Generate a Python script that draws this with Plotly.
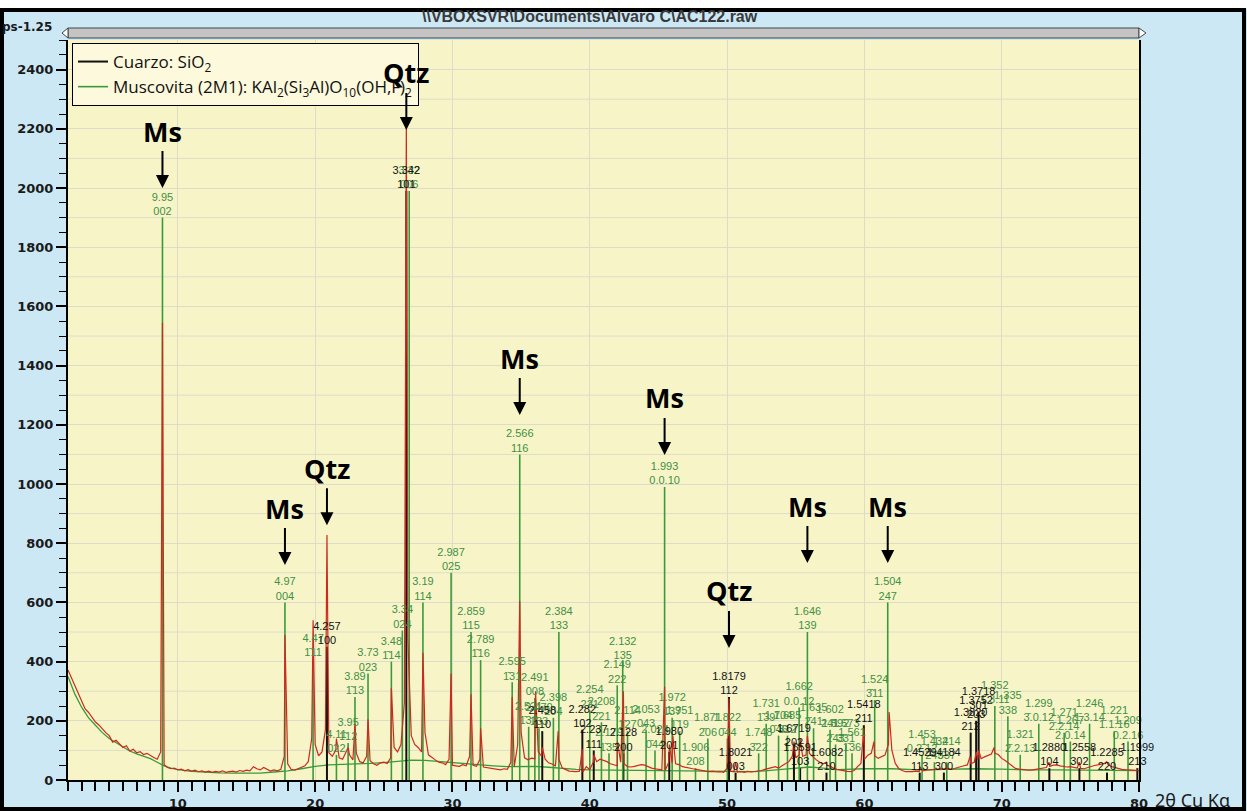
import plotly.graph_objects as go

# ---------------- DATA ----------------
# Measured diffractogram, counts sampled every 0.25 deg from 2 deg to 80 deg
obs_start = 2.0
obs_step = 0.25
obs_counts = [
    372, 345, 318, 290, 262, 240, 228, 210, 196, 186, 172, 160,   # 2.00
    150, 128, 134, 122, 110, 116, 98, 104, 92, 96, 86, 90,        # 5.00
    82, 76, 70, 95, 52, 42, 38, 40, 34, 37, 31, 35,               # 8.00
    30, 33, 28, 31, 27, 30, 26, 29, 27, 31, 26, 28,               # 11.00
    30, 27, 32, 29, 33, 31, 45, 38, 34, 42, 36, 30,               # 14.00
    34, 31, 36, 80, 55, 36, 33, 38, 42, 48, 62, 140,              # 17.00
    120, 82, 95, 170, 92, 80, 100, 75, 70, 95, 85, 68,            # 20.00
    90, 62, 58, 80, 65, 55, 50, 58, 60, 56, 75, 110,              # 23.00
    95, 120, 260, 480, 150, 120, 110, 95, 160, 85, 75, 68,        # 26.00
    60, 58, 52, 70, 50, 48, 46, 52, 48, 80, 50, 46,               # 29.00
    70, 44, 42, 40, 38, 36, 34, 38, 36, 60, 45, 120,              # 32.00
    160, 75, 68, 74, 72, 95, 80, 70, 58, 54, 48, 70,              # 35.00
    40, 34, 30, 29, 28, 30, 27, 45, 35, 60, 62, 70,               # 38.00
    66, 62, 55, 52, 48, 60, 55, 45, 44, 46, 48, 52,               # 41.00
    50, 45, 40, 38, 36, 34, 33, 60, 58, 55, 52, 45,               # 44.00
    42, 40, 38, 36, 33, 30, 29, 28, 29, 27, 28, 26,               # 47.00
    40, 30, 28, 27, 28, 26, 29, 27, 28, 30, 32, 36,               # 50.00
    38, 42, 45, 40, 48, 55, 62, 80, 75, 85, 80, 84,               # 53.00
    90, 78, 68, 60, 55, 50, 47, 40, 36, 33, 30, 29,               # 56.00
    28, 32, 45, 56, 70, 84, 90, 82, 73, 78, 84, 120,              # 59.00
    101, 56, 39, 32, 28, 27, 28, 30, 29, 31, 33, 34,              # 62.00
    33, 36, 38, 37, 39, 36, 38, 42, 45, 48, 51, 55,               # 65.00
    60, 68, 72, 78, 84, 88, 90, 86, 73, 66, 56, 48,               # 68.00
    39, 37, 35, 34, 33, 34, 36, 38, 39, 42, 46, 50,               # 71.00
    51, 48, 45, 44, 45, 42, 40, 39, 38, 42, 46, 49,               # 74.00
    51, 54, 56, 52, 45, 42, 38, 36, 35, 34, 33, 32,               # 77.00
    32,                                                           # 80.00
]
# Peak tops of the measured pattern
peak_2theta = [8.88, 17.80, 19.85, 20.86, 21.55, 22.40, 22.90, 23.85, 25.55, 26.64,
               27.85, 29.90, 31.35, 32.05, 34.35, 34.90, 36.05, 36.55, 37.70, 39.45,
               40.30, 42.02, 42.45, 45.45, 45.80, 46.05, 50.14, 50.62, 54.87, 55.32,
               55.85, 57.24, 59.96, 60.70, 61.80, 64.03, 67.70, 68.15, 68.33, 69.45,
               73.45, 75.65, 77.65]
peak_counts = [1545, 490, 540, 828, 140, 110, 190, 205, 310, 2220,
               430, 360, 290, 175, 280, 605, 300, 110, 165, 105,
               85, 130, 300, 315, 120, 150, 275, 60, 130, 140,
               150, 60, 175, 130, 230, 45, 80, 95, 100, 110,
               60, 60, 62]

# Background curve
bkg_2theta = [2, 2.5, 3, 3.5, 4, 4.5, 5, 5.5, 6, 6.5, 7, 7.5, 8, 8.5, 9, 9.5,
              10, 11, 12, 13, 14, 15, 16, 17, 18, 19, 20, 21, 22, 23, 24, 25, 26, 27,
              28, 29, 30, 31, 32, 33, 34, 35, 36, 37, 38, 39, 40,
              42, 44, 46, 48, 50, 52, 54, 56, 57, 58,
              60, 62, 64, 66, 68, 70, 72, 74, 76, 78, 80]
bkg_counts = [350, 290, 245, 210, 185, 160, 140, 125, 110, 98, 88, 80, 72, 60, 48, 40,
              35, 29, 26, 24, 23, 22, 23, 27, 31, 38, 46, 51, 52, 54, 56, 59, 63, 67,
              66, 62, 58, 55, 51, 48, 45, 45, 46, 43, 39, 36, 34,
              33, 32, 30, 28, 28, 28, 36, 44, 40, 35,
              38, 38, 34, 36, 38, 37, 34, 34, 34, 33, 32]

B = "\u0304"  # overline (bar) for negative Miller indices

# Quartz reference sticks
qtz_2theta = [20.86, 26.64, 36.54, 39.46, 40.29, 42.45, 45.79, 50.14, 50.62, 54.87, 55.32,
              57.24, 59.96, 64.03, 65.79, 67.74, 68.14, 68.32, 73.47, 75.66, 77.67, 79.88]
qtz_counts = [450, 1990, 165, 170, 100, 90, 95, 280, 25, 105, 40,
              25, 185, 25, 25, 160, 200, 230, 40, 40, 25, 40]
qtz_d = ["4.257", "3.342", "2.458", "2.282", "2.237", "2.128", "1.980", "1.8179", "1.8021",
         "1.6719", "1.6591", "1.6082", "1.5418", "1.4529", "1.4184", "1.3820", "1.3752",
         "1.3718", "1.2880", "1.2558", "1.2285", "1.1999"]
qtz_hkl = ["100", "101", "110", "102", "111", "200", "201", "112", "003", "202", "103",
           "210", "211", "113", "300", "212", "203", "301", "104", "302", "220", "213"]

# Muscovite reference sticks
ms_2theta = [8.88, 17.80, 19.85, 21.55, 22.40, 22.90, 23.85, 25.55, 26.35, 26.85,
             27.85, 29.90, 31.35, 32.05, 34.35, 34.90, 35.55, 36.00, 36.30, 37.35,
             37.75, 40.00, 40.85, 41.40, 42.00, 42.40, 42.75, 44.10, 44.75, 45.45,
             46.00, 46.55, 47.70, 48.60, 50.02, 52.30, 52.85, 53.75, 54.40, 55.25,
             55.85, 56.30, 57.50, 57.90, 58.65, 59.10, 60.75, 61.70, 64.20, 65.10,
             66.00, 69.50, 70.45, 71.35, 72.70, 74.55, 75.00, 76.40, 78.20, 79.20]
ms_counts = [1900, 600, 410, 85, 125, 280, 360, 400, 505, 1990,
             600, 700, 500, 405, 330, 1100, 180, 277, 175, 210,
             500, 235, 195, 90, 320, 400, 165, 170, 100, 990,
             210, 165, 40, 140, 140, 90, 190, 150, 150, 245,
             500, 175, 170, 120, 120, 90, 270, 600, 85, 60,
             60, 250, 215, 85, 190, 160, 130, 190, 165, 130]
ms_d = ["9.95", "4.97", "4.47", "4.11", "3.95", "3.89", "3.73", "3.48", "3.34", "3.32",
        "3.19", "2.987", "2.859", "2.789", "2.595", "2.566", "2.521", "2.491", "2.470", "2.398",
        "2.384", "2.254", "2.208", "2.179", "2.149", "2.132", "2.114", "2.053", "2.024", "1.993",
        "1.972", "1.951", "1.906", "1.871", "1.822", "1.748", "1.731", "1.704", "1.685", "1.662",
        "1.646", "1.635", "1.602", "1.592", "1.573", "1.561", "1.524", "1.504", "1.453", "1.432",
        "1.414", "1.352", "1.335", "1.321", "1.299", "1.271", "1.267", "1.246", "1.221", "1.209"]
ms_hkl = ["002", "004", "1" + B + "11", "022", "1" + B + "12", "1" + B + "13", "023", "1" + B + "14", "024", "006",
          "114", "025", "115", "1" + B + "16", "1" + B + "31", "116", "1" + B + "32", "008", "1" + B + "33", "204",
          "133", "221", "2" + B + "21", "1" + B + "35", "222", "135", "1" + B + "27", "043", "0" + B + "44", "0.0.10",
          "1" + B + "37", "1" + B + "19", "208", "2" + B + "06", "0" + B + "44", "3" + B + "22", "1" + B + "39", "0" + B + "46", "3" + B + "12", "0.0.12",
          "139", "2" + B + "41", "241", "2" + B + "43", "3" + B + "31", "1" + B + "36", "3" + B + "11", "247", "0.2.12", "2" + B + "45",
          "3" + B + "37", "1" + B + ".3.11", "338", "2" + B + ".2.13", "3" + B + ".0.12", "2" + B + ".2.14", "2.0.14", "1" + B + ".3.14", "1" + B + ".1.16", "0.2.16"]

# Phase markers with arrows
marker_text = ["Ms", "Ms", "Qtz", "Qtz", "Ms", "Ms", "Qtz", "Ms", "Ms"]
marker_2theta = [8.88, 17.80, 20.86, 26.64, 34.90, 45.45, 50.14, 55.85, 61.70]
marker_counts = [2000, 726, 861, 2196, 1233, 1098, 446, 733, 733]

# ---------------- STYLE ----------------
W, H = 1247, 811
ML, MR, MT, MB = 68, 108, 40, 31
PW, PH = W - ML - MR, H - MT - MB


def PX(px):
    return (px - ML) / PW


def PY(py):
    return (H - MB - py) / PH


PAPER = "#cde8f5"
PLOTBG = "#f7f5c8"
GRID = "#dedcc9"
RED = "#cc2a1e"
GREEN = "#3a9a3a"
GREEN_TXT = "#3f8f45"

# ---------------- BUILD ----------------
obs_x = [obs_start + i * obs_step for i in range(len(obs_counts))]
pts = sorted(list(zip(obs_x, obs_counts)) + list(zip(peak_2theta, peak_counts)))
obs_2theta = [p[0] for p in pts]
obs_y = [p[1] for p in pts]


def sticks(xs, hs):
    sx, sy = [], []
    for t, h in zip(xs, hs):
        sx += [t, t, None]
        sy += [0, h, None]
    return sx, sy


fig = go.Figure()

fig.add_trace(go.Scatter(x=bkg_2theta, y=bkg_counts, mode="lines",
                         line=dict(color=GREEN, width=1.3), showlegend=False, hoverinfo="skip"))

qx, qy = sticks(qtz_2theta, qtz_counts)
fig.add_trace(go.Scatter(x=qx, y=qy, mode="lines", line=dict(color="#111111", width=2),
                         name="Cuarzo: SiO<sub>2</sub>", hoverinfo="skip"))
mx, my = sticks(ms_2theta, ms_counts)
fig.add_trace(go.Scatter(x=mx, y=my, mode="lines", line=dict(color=GREEN, width=1.6),
                         name="Muscovita (2M1): KAl<sub>2</sub>(Si<sub>3</sub>Al)O<sub>10</sub>(OH,F)<sub>2</sub>",
                         hoverinfo="skip"))

fig.add_trace(go.Scatter(x=obs_2theta, y=obs_y, mode="lines", line=dict(color=RED, width=1.2),
                         showlegend=False, hoverinfo="skip"))

fig.add_trace(go.Scatter(x=ms_2theta, y=ms_counts, mode="text",
                         text=[f"{d}<br>{h}" for d, h in zip(ms_d, ms_hkl)],
                         textposition="top center",
                         textfont=dict(family="Liberation Sans", size=11, color=GREEN_TXT),
                         showlegend=False, hoverinfo="skip", cliponaxis=False))
fig.add_trace(go.Scatter(x=qtz_2theta, y=qtz_counts, mode="text",
                         text=[f"{d}<br>{h}" for d, h in zip(qtz_d, qtz_hkl)],
                         textposition="top center",
                         textfont=dict(family="Liberation Sans", size=11, color="#111111"),
                         showlegend=False, hoverinfo="skip", cliponaxis=False))

shapes = []
# extra horizontal grid lines at odd hundreds
for v in range(100, 2500, 200):
    shapes.append(dict(type="line", xref="paper", yref="y", x0=0, x1=1, y0=v, y1=v,
                       line=dict(color=GRID, width=1), layer="below"))
# white strip at the very top and black frame
shapes.append(dict(type="rect", xref="paper", yref="paper", x0=PX(-5), x1=PX(W + 5),
                   y0=PY(9), y1=PY(-5), fillcolor="white", line=dict(width=0), layer="above"))
shapes.append(dict(type="rect", xref="paper", yref="paper", x0=PX(2), x1=PX(W - 3),
                   y0=PY(H - 2), y1=PY(10), line=dict(color="black", width=4), layer="above"))
# scrollbar
shapes.append(dict(type="rect", xref="paper", yref="paper", x0=PX(68), x1=PX(1139),
                   y0=PY(38), y1=PY(28), fillcolor="#c4c4c4", line=dict(color="#444444", width=1)))
shapes.append(dict(type="path", xref="paper", yref="paper",
                   path=f"M {PX(68)} {PY(28)} L {PX(62)} {PY(33)} L {PX(68)} {PY(38)} Z",
                   fillcolor="white", line=dict(color="#444444", width=1)))
shapes.append(dict(type="path", xref="paper", yref="paper",
                   path=f"M {PX(1139)} {PY(28)} L {PX(1146)} {PY(33)} L {PX(1139)} {PY(38)} Z",
                   fillcolor="white", line=dict(color="#444444", width=1)))

annotations = []
for t, x, y in zip(marker_text, marker_2theta, marker_counts):
    annotations.append(dict(x=x, y=y, xref="x", yref="y", text=t, showarrow=True,
                            ax=0, ay=-57, arrowhead=2, arrowsize=1.3, arrowwidth=2,
                            arrowcolor="black",
                            font=dict(family="Open Sans", size=27, color="black", weight="bold")))
annotations.append(dict(x=PX(590), y=PY(17), xref="paper", yref="paper",
                        xanchor="center", yanchor="middle",
                        text=r"\\VBOXSVR\Documents\Alvaro C\AC122.raw", showarrow=False,
                        font=dict(family="Liberation Sans", size=16, color="#3a3a3a", weight="bold")))
annotations.append(dict(x=PX(27), y=PY(27), xref="paper", yref="paper",
                        xanchor="center", yanchor="middle", text="ps-1.25",
                        showarrow=False,
                        font=dict(family="DejaVu Sans", size=12, color="#1a1a1a", weight="bold")))
annotations.append(dict(x=PX(1153), y=PY(800), xref="paper", yref="paper",
                        xanchor="left", yanchor="middle", text="2θ Cu Kα",
                        showarrow=False,
                        font=dict(family="Noto Sans", size=18, color="#1a1a1a")))

fig.update_layout(
    width=W, height=H, autosize=False,
    margin=dict(l=ML, r=MR, t=MT, b=MB, pad=0),
    paper_bgcolor=PAPER, plot_bgcolor=PLOTBG,
    shapes=shapes, annotations=annotations,
    legend=dict(x=PX(72), y=PY(43), xanchor="left", yanchor="top",
                bgcolor="#fcf9dc", bordercolor="black", borderwidth=1,
                font=dict(family="Open Sans", size=17, color="#111111"),
                itemwidth=30, tracegroupgap=0),
    showlegend=True,
)
fig.update_xaxes(range=[2, 80], tickmode="linear", tick0=10, dtick=10,
                 showgrid=True, gridcolor=GRID, gridwidth=1,
                 showline=True, linecolor="black", linewidth=2, zeroline=False,
                 ticks="outside", ticklen=10, tickwidth=2, tickcolor="black",
                 tickfont=dict(family="DejaVu Sans", size=13, color="#1a1a1a", weight="bold"),
                 minor=dict(tickmode="linear", tick0=0, dtick=1, ticks="outside", ticklen=9,
                            tickwidth=1.5, tickcolor="black", showgrid=False),
                 automargin=False, fixedrange=True)
fig.update_yaxes(range=[0, 2500], tickmode="linear", tick0=0, dtick=200,
                 showgrid=True, gridcolor=GRID, gridwidth=1,
                 showline=True, linecolor="black", linewidth=2, mirror=True, zeroline=False,
                 ticks="outside", ticklen=10, tickwidth=1.5, tickcolor="black",
                 tickfont=dict(family="DejaVu Sans", size=13, color="#1a1a1a", weight="bold"),
                 minor=dict(tickmode="linear", tick0=0, dtick=50, ticks="outside", ticklen=7,
                            tickwidth=1, tickcolor="black", showgrid=False),
                 automargin=False, fixedrange=True)

fig.write_html("out.html", config={"displayModeBar": False})
with open("out.html", "r", encoding="utf-8") as f:
    html = f.read()
html = html.replace("<head>", "<head><style>html,body{margin:0;padding:0;overflow:hidden;}</style>", 1)
with open("out.html", "w", encoding="utf-8") as f:
    f.write(html)
